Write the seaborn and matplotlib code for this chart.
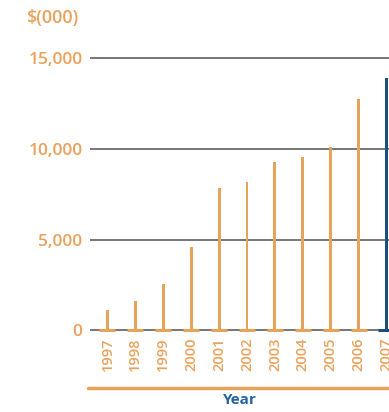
import matplotlib
matplotlib.use("Agg")
import matplotlib.pyplot as plt
from matplotlib.lines import Line2D
import seaborn as sns
import pandas as pd

years = ["1997", "1998", "1999", "2000", "2001", "2002", "2003", "2004", "2005", "2006", "2007"]
values = [1150, 1650, 2550, 4600, 7830, 8150, 9280, 9550, 10100, 12720, 13900]
groups = ["past"] * 10 + ["current"]
y_ticks = [0, 5000, 10000, 15000]
y_tick_labels = ["0", "5,000", "10,000", "15,000"]

ORANGE = "#E8A35A"
TEXT_ORANGE = "#E9A25C"
BLUE = "#1F4E7D"
LABEL_BLUE = "#2363A3"
GRID = "#6B6B6B"

df = pd.DataFrame({"Year": years, "Value": values, "Group": groups})
df["Base"] = 0
palette = {"past": ORANGE, "current": BLUE}

sns.set_theme(style="white")
plt.rcParams["font.family"] = ["Open Sans", "DejaVu Sans"]

W, H = 389, 412
fig = plt.figure(figsize=(W / 100, H / 100), dpi=100)
left_px, right_px, top_px, bottom_px = 90, 389, 50, 335
ax = fig.add_axes([left_px / W, 1 - bottom_px / H, (right_px - left_px) / W, (bottom_px - top_px) / H])

sns.barplot(data=df, x="Year", y="Value", hue="Group", palette=palette,
            dodge=False, width=0.105, legend=False, ax=ax, zorder=3,
            linewidth=0, saturation=1)
sns.stripplot(data=df, x="Year", y="Base", hue="Group", palette=palette,
              dodge=False, jitter=False, marker="_", size=11, linewidth=2.2,
              legend=False, ax=ax, zorder=4)

ax.set_xlim(-0.627, 10.09)
ax.set_ylim(-248, 15440)
ax.set_yticks(y_ticks)
ax.set_yticklabels(y_tick_labels)
ax.yaxis.grid(True, color=GRID, linewidth=1.3, zorder=0)
ax.xaxis.grid(False)
for s in ax.spines.values():
    s.set_visible(False)
ax.tick_params(axis="y", length=0, pad=5.5, labelsize=12.5, labelcolor=TEXT_ORANGE)
ax.tick_params(axis="x", length=0, pad=1.5, labelsize=10.5, labelcolor=TEXT_ORANGE, rotation=90)
for lab in ax.get_yticklabels() + ax.get_xticklabels():
    lab.set_fontweight(600)
ax.set_ylabel("")
ax.set_xlabel("Year", color=LABEL_BLUE, fontweight="bold", fontsize=11, labelpad=16.5)

fig.add_artist(Line2D([88 / W, 1.0], [1 - 388 / H, 1 - 388 / H], transform=fig.transFigure,
                      color=ORANGE, linewidth=2.5))
fig.text(26 / W, 1 - 18 / H, "$(000)", color=TEXT_ORANGE, fontsize=13, fontweight=600,
         ha="left", va="center")

fig.savefig("out.png", dpi=100)
